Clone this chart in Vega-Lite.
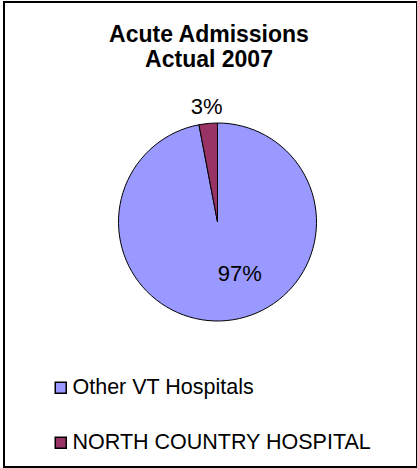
{
  "$schema": "https://vega.github.io/schema/vega-lite/v6.json",
  "width": 413,
  "height": 465,
  "autosize": {"type": "none"},
  "padding": {"left": 4, "top": 2, "right": 0, "bottom": 1},
  "background": "white",
  "view": {"stroke": "#000000", "strokeWidth": 2, "fill": "white"},
  "config": {
    "view": {"stroke": "#000000", "strokeWidth": 2},
    "font": "Liberation Sans"
  },
  "title": {
    "text": ["Acute Admissions", "Actual 2007"],
    "font": "Liberation Sans",
    "fontSize": 23,
    "fontWeight": "bold",
    "color": "#000000",
    "anchor": "middle",
    "frame": "group",
    "lineHeight": 25,
    "offset": -70,
    "dx": -1.5
  },
  "data": {
    "values": [
      {"category": "Other VT Hospitals", "value": 0.97},
      {"category": "NORTH COUNTRY HOSPITAL", "value": 0.03}
    ]
  },
  "layer": [
    {
      "mark": {
        "type": "arc",
        "outerRadius": 99,
        "stroke": "#000000",
        "strokeWidth": 1,
        "x": {"expr": "width/2 + 7"},
        "y": {"expr": "height/2 - 12.5"}
      },
      "encoding": {
        "theta": {"field": "value", "type": "quantitative", "stack": true},
        "order": {"field": "value", "sort": "descending"},
        "color": {
          "field": "category",
          "type": "nominal",
          "sort": ["Other VT Hospitals", "NORTH COUNTRY HOSPITAL"],
          "scale": {
            "domain": ["Other VT Hospitals", "NORTH COUNTRY HOSPITAL"],
            "range": ["#9999FF", "#993366"]
          },
          "legend": {
            "title": null,
            "orient": "none",
            "legendX": 46,
            "legendY": 375,
            "direction": "vertical",
            "padding": 0,
            "symbolType": "square",
            "symbolSize": 121,
            "symbolStrokeColor": "#000000",
            "symbolStrokeWidth": 1.5,
            "symbolOpacity": 1,
            "labelFont": "Liberation Sans",
            "labelFontSize": 21.5,
            "labelColor": "#000000",
            "labelOffset": 1,
            "rowPadding": 32,
            "labelLimit": 400
          }
        }
      }
    },
    {
      "mark": {
        "type": "text",
        "radius": 116,
        "fontSize": 22,
        "font": "Liberation Sans",
        "color": "#000000",
        "align": "center",
        "baseline": "middle",
        "x": {"expr": "width/2 + 7"},
        "y": {"expr": "height/2 - 12.5"}
      },
      "encoding": {
        "theta": {"field": "value", "type": "quantitative", "stack": true},
        "order": {"field": "value", "sort": "descending"},
        "detail": {"field": "category", "type": "nominal"},
        "text": {
          "condition": {"test": "datum.category === 'NORTH COUNTRY HOSPITAL'", "field": "value", "type": "quantitative", "format": ".0%"},
          "value": ""
        }
      }
    },
    {
      "mark": {
        "type": "text",
        "radius": 57,
        "fontSize": 22,
        "font": "Liberation Sans",
        "color": "#000000",
        "align": "center",
        "baseline": "middle",
        "dx": 17,
        "dy": -5,
        "x": {"expr": "width/2 + 7"},
        "y": {"expr": "height/2 - 12.5"}
      },
      "encoding": {
        "theta": {"field": "value", "type": "quantitative", "stack": true},
        "order": {"field": "value", "sort": "descending"},
        "detail": {"field": "category", "type": "nominal"},
        "text": {
          "condition": {"test": "datum.category === 'Other VT Hospitals'", "field": "value", "type": "quantitative", "format": ".0%"},
          "value": ""
        }
      }
    }
  ]
}
